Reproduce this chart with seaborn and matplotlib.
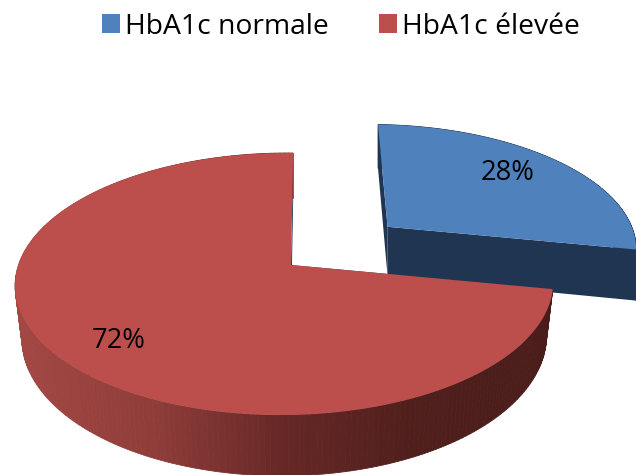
import numpy as np
import matplotlib
matplotlib.use("Agg")
import matplotlib.pyplot as plt
from matplotlib.patches import Patch, Polygon
from matplotlib.colors import to_rgb
import seaborn as sns

# Share of patients per HbA1c group, in percent
categories = ["HbA1c normale", "HbA1c élevée"]
shares = [28, 72]
top_colors = ["#4f81bd", "#bc4f4c"]
side_colors = ["#1f3552", "#1f3552"]
explode = [0.493, 0.0]
label_radius = [0.739, 0.793]
label_turn = [-2.1, -2.9]
wall_taper = [1.0, 0.975]

# Projection of the pie disc onto the page
CX, CY = 291.0, 265.0
RX, RY = 266.0, 128.2
PERSP_Y = 0.145
PERSP_X = 0.024
SHEAR = 0.02
DEPTH = 52.0

sns.set_theme(style="white")
plt.rcParams["font.family"] = ["Open Sans", "DejaVu Sans"]

side_ramp = sns.blend_palette(
    ["#a24743", "#8f3d3a", "#662826", "#4f1f1c", "#4a1d1b"], n_colors=256
)


def project(x, y, drop=0.0, taper=1.0):
    """Map disc coordinates to page pixels; drop pushes a point down the pie wall."""
    x, y = np.asarray(x), np.asarray(y)
    d = 1.0 + PERSP_Y * y + PERSP_X * x
    sy = RY * y / d
    sx = RX * x / d + SHEAR * sy
    return CX + sx * taper, CY - sy + drop * DEPTH / (1.0 + PERSP_Y * y)


fig = plt.figure(figsize=(6.36, 4.75), dpi=100)
ax = fig.add_axes([0, 0, 1, 1])
ax.set_xlim(0, 636)
ax.set_ylim(475, 0)
ax.axis("off")

ends = np.cumsum(shares) / np.sum(shares) * 2 * np.pi
starts = np.r_[0, ends[:-1]]

for i, (a0, a1) in enumerate(zip(starts, ends)):
    mid = (a0 + a1) / 2
    ox, oy = explode[i] * np.sin(mid), explode[i] * np.cos(mid)
    t = np.linspace(a0, a1, 240)
    ax_x, ax_y = ox + np.sin(t), oy + np.cos(t)

    # Cut faces along the two straight edges
    for end in (0, -1):
        px, py = project(np.array([ox, ax_x[end]]), np.array([oy, ax_y[end]]))
        qx, qy = project(np.array([ox, ax_x[end]]), np.array([oy, ax_y[end]]),
                         drop=1, taper=wall_taper[i])
        ax.add_patch(Polygon(np.c_[np.r_[px, qx[::-1]], np.r_[py, qy[::-1]]],
                             closed=True, fc=side_colors[i], ec="none"))

    # Outer wall, shaded strip by strip
    tx, ty = project(ax_x, ax_y)
    bx, by = project(ax_x, ax_y, drop=1, taper=wall_taper[i])
    for j in range(len(t) - 1):
        if i == 0:
            c = side_colors[i]
        else:
            frac = np.clip((tx[j] - 20) / 530, 0, 1)
            c = to_rgb(side_ramp[int(frac * 255)])
        quad = [(tx[j], ty[j]), (tx[j + 1], ty[j + 1]), (bx[j + 1], by[j + 1]), (bx[j], by[j])]
        ax.add_patch(Polygon(quad, closed=True, fc=c, ec=c, lw=0.6))

    # Top face
    ox_s, oy_s = project(ox, oy)
    ax.add_patch(Polygon(np.c_[np.r_[ox_s, tx], np.r_[oy_s, ty]], closed=True,
                         fc=top_colors[i], ec="none"))

# Value labels near each slice's mid-angle
for i, (a0, a1) in enumerate(zip(starts, ends)):
    mid = (a0 + a1) / 2 + np.deg2rad(label_turn[i])
    lx = (explode[i] + label_radius[i]) * np.sin(mid)
    ly = (explode[i] + label_radius[i]) * np.cos(mid)
    sx, sy = project(lx, ly)
    ax.text(sx, sy, f"{shares[i]}%", ha="center", va="center", fontsize=19.7, color="black")

handles = [Patch(fc=c, ec="none", label=n) for c, n in zip(top_colors, categories)]
ax.legend(handles=handles, ncol=2, loc="center", bbox_to_anchor=(0.536, 0.944),
          frameon=False, fontsize=20.3, labelcolor="black", handlelength=0.64,
          handleheight=0.64, handletextpad=0.2, columnspacing=1.75, borderpad=0,
          borderaxespad=0)

fig.savefig("out.png", dpi=100)
